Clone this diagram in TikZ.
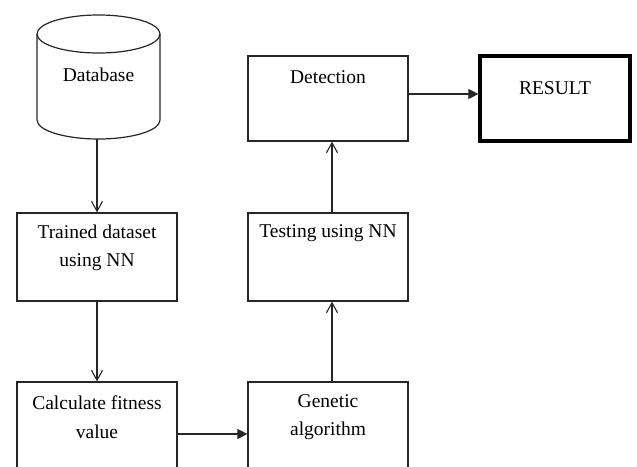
\documentclass[tikz,border=0pt]{standalone}
\usepackage{fontspec}
\setmainfont{Liberation Serif}
\usetikzlibrary{arrows.meta}
\begin{document}
\begin{tikzpicture}[x=1pt,y=-1pt,
  box/.style={draw=black!85, line width=1.2pt, minimum width=160pt, inner sep=0pt},
  resbox/.style={draw=black, line width=3.2pt, minimum width=150pt, minimum height=85pt, inner sep=0pt},
  lbl/.style={font=\fontsize{19.5}{28.5}\selectfont, align=center, inner sep=0pt},
  openarrow/.style={draw=black!85, line width=1.1pt, -{Straight Barb[length=10pt,width=11pt,line width=1.1pt]}},
  filledarrow/.style={draw=black!85, line width=1.1pt, -{Triangle[length=10pt,width=10pt]}}]
\useasboundingbox (0,0) rectangle (637,466);
\clip (0,0) rectangle (637,466);

% database cylinder (y axis points down, so angle 90 is the lower side)
\node[minimum width=123pt, minimum height=124pt, inner sep=0pt] (db) at (98.5,77) {};
\draw[black!85, line width=1.2pt, fill=white]
  (37,34) -- (37,120) arc[start angle=180, end angle=0, x radius=61.5, y radius=19]
  -- (160,34) arc[start angle=0, end angle=-180, x radius=61.5, y radius=19] -- cycle;
\draw[black!85, line width=1.2pt]
  (37,34) arc[start angle=180, end angle=0, x radius=61.5, y radius=19];
\node[lbl] (dbtext) at (98.5,75) {Database};

% process boxes
\node[box, minimum height=88pt] (train) at (97,257) {};
\node[lbl] (traintext) at (97,248) {Trained dataset\\using NN};

\node[box, minimum height=120pt] (calc) at (97,442) {};
\node[lbl] (calctext) at (97,417) {Calculate fitness\\value};

\node[box, minimum height=120pt] (gen) at (328,442) {};
\node[lbl] (gentext) at (328,417) {Genetic\\algorithm};

\node[box, minimum height=88pt] (test) at (328,257) {};
\node[lbl] (testtext) at (328,233) {Testing using NN};

\node[box, minimum height=85pt] (det) at (328,98.5) {};
\node[lbl] (dettext) at (328,77) {Detection};

\node[resbox] (res) at (555,98.5) {};
\node[lbl] (restext) at (555,88) {RESULT};

% connectors
\draw[openarrow] (train.north |- db.south) -- (train.north);
\draw[openarrow] (train.south) -- (calc.north);
\draw[filledarrow] (calc.east |- 0,434) -- (gen.west |- 0,434);
\draw[openarrow] ([xshift=4pt]gen.north) -- ([xshift=4pt]test.south);
\draw[openarrow] ([xshift=4pt]test.north) -- ([xshift=4pt]det.south);
\draw[filledarrow] (det.east |- 0,94) -- (res.west |- 0,94);
\end{tikzpicture}
\end{document}
